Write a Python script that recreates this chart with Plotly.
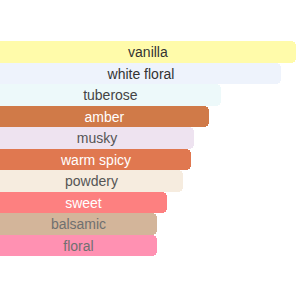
import plotly.graph_objects as go

categories = ["vanilla", "white floral", "tuberose", "amber", "musky",
              "warm spicy", "powdery", "sweet", "balsamic", "floral"]
values = [296, 281, 221, 209, 194, 191, 183, 167, 157, 157]
colors = ["#FFFBAA", "#EEF3FC", "#EDF9FA", "#D07A48", "#EEE3F0",
          "#E07850", "#F6ECDF", "#FD8080", "#D3B59A", "#FF91B2"]
text_colors = ["#333333", "#333333", "#444444", "#FFFFFF", "#555555",
               "#FFFFFF", "#555555", "#FFFFFF", "#707070", "#707070"]

fig = go.Figure(go.Bar(
    x=values,
    y=categories,
    orientation="h",
    marker=dict(color=colors, line=dict(width=0)),
    text=categories,
    textposition="inside",
    insidetextanchor="middle",
    textangle=0,
    constraintext="none",
    textfont=dict(family="Liberation Sans, Arial, sans-serif", size=14, color=text_colors),
    hoverinfo="skip",
))

fig.update_layout(
    width=300, height=300,
    margin=dict(l=0, r=4, t=41, b=44),
    paper_bgcolor="white", plot_bgcolor="white",
    bargap=0,
    barcornerradius=5,
    showlegend=False,
    uniformtext=dict(minsize=14, mode="show"),
    xaxis=dict(range=[0, 296], visible=False, fixedrange=True),
    yaxis=dict(autorange="reversed", visible=False, fixedrange=True),
)

fig.write_html("out.html")
